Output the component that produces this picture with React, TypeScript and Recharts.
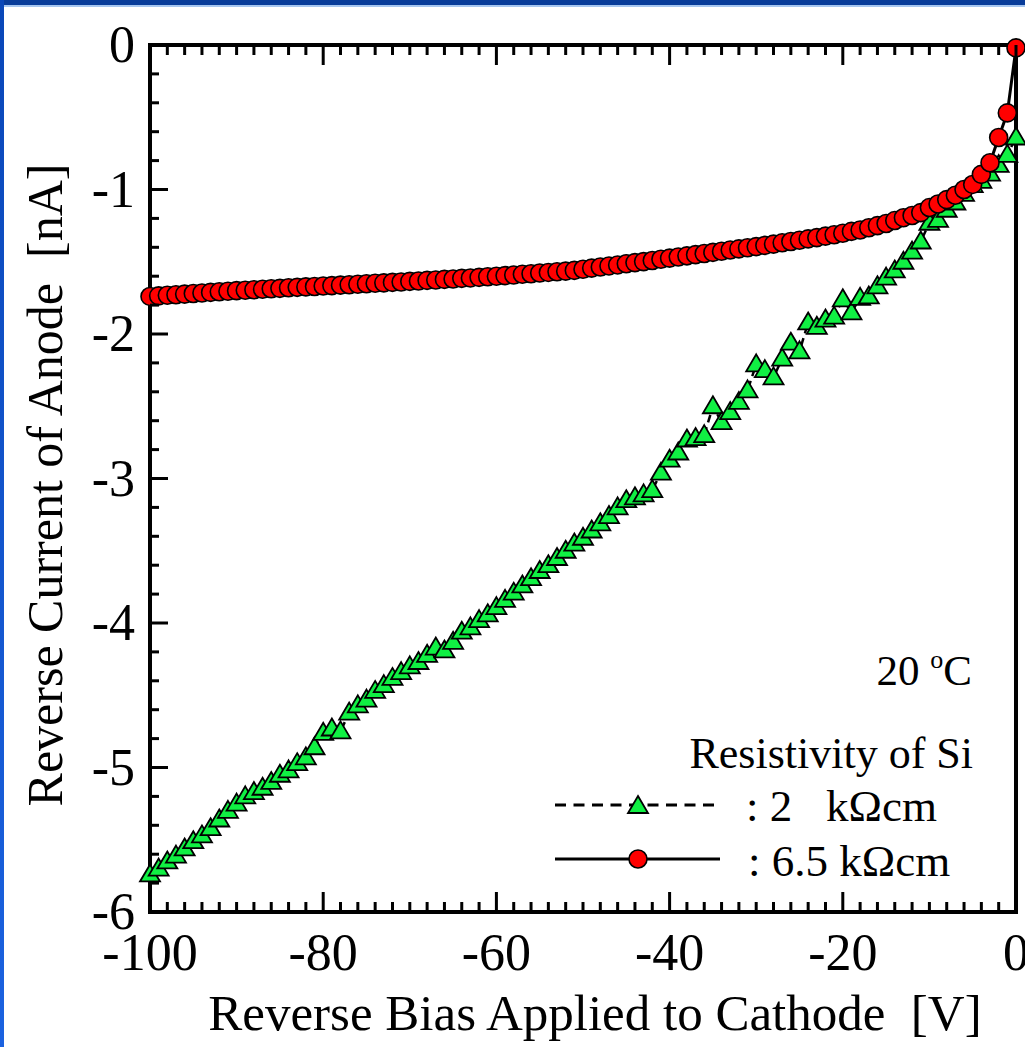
import { LineChart, Line, XAxis, YAxis, Legend } from "recharts";

const bias = [
  -100, -99, -98, -97, -96, -95, -94, -93, -92, -91,
  -90, -89, -88, -87, -86, -85, -84, -83, -82, -81,
  -80, -79, -78, -77, -76, -75, -74, -73, -72, -71,
  -70, -69, -68, -67, -66, -65, -64, -63, -62, -61,
  -60, -59, -58, -57, -56, -55, -54, -53, -52, -51,
  -50, -49, -48, -47, -46, -45, -44, -43, -42, -41,
  -40, -39, -38, -37, -36, -35, -34, -33, -32, -31,
  -30, -29, -28, -27, -26, -25, -24, -23, -22, -21,
  -20, -19, -18, -17, -16, -15, -14, -13, -12, -11,
  -10, -9, -8, -7, -6, -5, -4, -3, -2, -1,
  0,
];

// 2 kOhm cm wafer
const current2k = [
  -5.74, -5.7, -5.65, -5.61, -5.56, -5.51, -5.47, -5.42, -5.36, -5.3,
  -5.25, -5.2, -5.17, -5.14, -5.1, -5.05, -5.02, -4.97, -4.93, -4.86,
  -4.76, -4.73, -4.75, -4.62, -4.57, -4.53, -4.47, -4.43, -4.38, -4.34,
  -4.3, -4.27, -4.22, -4.17, -4.19, -4.13, -4.06, -4.03, -3.98, -3.94,
  -3.89, -3.84, -3.79, -3.74, -3.69, -3.64, -3.6, -3.55, -3.5, -3.45,
  -3.41, -3.36, -3.31, -3.26, -3.2, -3.15, -3.13, -3.11, -3.08, -2.96,
  -2.87, -2.82, -2.73, -2.72, -2.7, -2.5, -2.61, -2.54, -2.47, -2.39,
  -2.21, -2.25, -2.3, -2.17, -2.06, -2.12, -1.92, -1.95, -1.9, -1.88,
  -1.76, -1.85, -1.75, -1.74, -1.67, -1.61, -1.56, -1.5, -1.43, -1.36,
  -1.23, -1.21, -1.14, -1.09, -1.03, -0.97, -0.94, -0.89, -0.83, -0.76,
  -0.64,
];

// 6.5 kOhm cm wafer
const current65k = [
  -1.74, -1.736, -1.732, -1.728, -1.724, -1.72, -1.716, -1.712, -1.708, -1.704,
  -1.7, -1.697, -1.694, -1.69, -1.687, -1.684, -1.68, -1.677, -1.674, -1.671,
  -1.668, -1.665, -1.662, -1.659, -1.656, -1.652, -1.649, -1.646, -1.643, -1.64,
  -1.636, -1.633, -1.629, -1.626, -1.622, -1.619, -1.615, -1.612, -1.608, -1.604,
  -1.6, -1.596, -1.592, -1.587, -1.583, -1.578, -1.574, -1.569, -1.565, -1.56,
  -1.552, -1.544, -1.536, -1.529, -1.522, -1.514, -1.506, -1.499, -1.491, -1.483,
  -1.475, -1.467, -1.459, -1.451, -1.443, -1.435, -1.427, -1.419, -1.411, -1.403,
  -1.395, -1.387, -1.378, -1.369, -1.36, -1.351, -1.342, -1.333, -1.323, -1.313,
  -1.303, -1.29, -1.28, -1.265, -1.25, -1.235, -1.215, -1.195, -1.18, -1.16,
  -1.125, -1.1, -1.07, -1.04, -1.0, -0.965, -0.895, -0.815, -0.64, -0.47,
  -0.02,
];

const seriesNames = [": 2   k\u03A9cm", ": 6.5 k\u03A9cm"];

const xTicks = [
  -100, -98, -96, -94, -92, -90, -88, -86, -84, -82,
  -80, -78, -76, -74, -72, -70, -68, -66, -64, -62,
  -60, -58, -56, -54, -52, -50, -48, -46, -44, -42,
  -40, -38, -36, -34, -32, -30, -28, -26, -24, -22,
  -20, -18, -16, -14, -12, -10, -8, -6, -4, -2, 0,
];
const xLabels = [-100, -80, -60, -40, -20, 0];

const yTicks = [
  -6, -5.8, -5.6, -5.4, -5.2, -5, -4.8, -4.6, -4.4, -4.2,
  -4, -3.8, -3.6, -3.4, -3.2, -3, -2.8, -2.6, -2.4, -2.2,
  -2, -1.8, -1.6, -1.4, -1.2, -1, -0.8, -0.6, -0.4, -0.2, 0,
];
const yLabels = [0, -1, -2, -3, -4, -5, -6];

const rows = bias.map((v, i) => ({ v, g: current2k[i], r: current65k[i] }));

const FONT = '"Liberation Serif", "Times New Roman", serif';
const GREEN = "#10f043";
const RED = "#ff0000";

const isMajor = (list: number[], v: number) => list.some((l) => Math.abs(l - v) < 1e-6);

const BottomTick = (p: any) => {
  const { x, y, payload } = p;
  const major = isMajor(xLabels, payload.value);
  return (
    <g>
      <line x1={x} y1={y} x2={x} y2={y - (major ? 20 : 10)} stroke="#000" strokeWidth={3} />
      {major && (
        <text x={x} y={y + 58} textAnchor="middle" fontSize={52} fontFamily={FONT} fill="#000">
          {payload.value}
        </text>
      )}
    </g>
  );
};

const TopTick = (p: any) => {
  const { x, y, payload } = p;
  const major = isMajor(xLabels, payload.value);
  return <line x1={x} y1={y} x2={x} y2={y + (major ? 20 : 10)} stroke="#000" strokeWidth={3} />;
};

const LeftTick = (p: any) => {
  const { x, y, payload } = p;
  const major = isMajor(yLabels, payload.value);
  return (
    <g>
      <line x1={x} y1={y} x2={x + (major ? 18 : 9)} y2={y} stroke="#000" strokeWidth={3} />
      {major && (
        <text x={x - 15} y={y + 17} textAnchor="end" fontSize={52} fontFamily={FONT} fill="#000">
          {payload.value}
        </text>
      )}
    </g>
  );
};

const RightTick = (p: any) => {
  const { x, y, payload } = p;
  const major = isMajor(yLabels, payload.value);
  return <line x1={x} y1={y} x2={x - (major ? 18 : 9)} y2={y} stroke="#000" strokeWidth={3} />;
};

const triPath = (cx: number, cy: number) =>
  `M${cx},${cy - 10} L${cx + 10},${cy + 7} L${cx - 10},${cy + 7} Z`;

const TriangleDot = (p: any) => {
  const { cx, cy, index } = p;
  if (cx == null || cy == null) return null;
  return <path key={`t${index}`} d={triPath(cx, cy)} fill={GREEN} stroke="#000" strokeWidth={1.8} />;
};

const Notes = () => (
  <svg width={480} height={260} style={{ display: "block" }} fontFamily={FONT}>
    <text x={427} y={45} textAnchor="end" fontSize={43} fill="#000">
      <tspan>20 </tspan>
      <tspan dy={-17} fontSize={26}>o</tspan>
      <tspan dy={17}>C</tspan>
    </text>
    <text x={428} y={128} textAnchor="end" fontSize={44} fill="#000">
      Resistivity of Si
    </text>
    <line x1={10} y1={165} x2={170} y2={165} stroke="#000" strokeWidth={3} strokeDasharray="11 7.5" />
    <path d={triPath(93, 166)} fill={GREEN} stroke="#000" strokeWidth={1.8} />
    <text x={201} y={181} fontSize={45} fill="#000" style={{ whiteSpace: "pre" }}>
      {seriesNames[0]}
    </text>
    <line x1={10} y1={219} x2={175} y2={219} stroke="#000" strokeWidth={3} />
    <circle cx={93} cy={219} r={9} fill={RED} stroke="#000" strokeWidth={1.6} />
    <text x={203} y={236} fontSize={45} fill="#000" style={{ whiteSpace: "pre" }}>
      {seriesNames[1]}
    </text>
  </svg>
);

const axisLine = { stroke: "#000", strokeWidth: 4, strokeLinecap: "square" as const };

export default function App() {
  return (
    <div style={{ position: "absolute", left: 0, top: 0, width: 1025, height: 1047, background: "#fff", overflow: "hidden" }}>
      <LineChart width={1025} height={1047} data={rows} margin={{ top: 44, right: 8, bottom: 134, left: 149 }}>
        <XAxis
          xAxisId="b"
          dataKey="v"
          type="number"
          domain={[-100, 0]}
          ticks={xTicks}
          interval={0}
          height={1}
          tickSize={0}
          tickMargin={0}
          tickLine={false}
          axisLine={axisLine}
          tick={BottomTick}
          label={{
            content: (lp: any) => {
              const vb = lp.viewBox || {};
              return (
                <text x={(vb.x ?? 150) + (vb.width ?? 866) / 2 + 12} y={1030} textAnchor="middle" fontSize={51} fontFamily={FONT} fill="#000" style={{ whiteSpace: "pre" }}>
                  Reverse Bias Applied to Cathode  [V]
                </text>
              );
            },
          }}
        />
        <XAxis
          xAxisId="t"
          orientation="top"
          dataKey="v"
          type="number"
          domain={[-100, 0]}
          ticks={xTicks}
          interval={0}
          height={1}
          tickSize={0}
          tickMargin={0}
          tickLine={false}
          axisLine={axisLine}
          tick={TopTick}
        />
        <YAxis
          yAxisId="l"
          type="number"
          domain={[-6, 0]}
          ticks={yTicks}
          interval={0}
          width={1}
          tickSize={0}
          tickMargin={0}
          tickLine={false}
          axisLine={axisLine}
          tick={LeftTick}
          label={{
            content: () => (
              <text x={62} y={485} transform="rotate(-90 62 485)" textAnchor="middle" fontSize={50} fontFamily={FONT} fill="#000" style={{ whiteSpace: "pre" }}>
                Reverse Current of Anode  [nA]
              </text>
            ),
          }}
        />
        <YAxis
          yAxisId="r"
          orientation="right"
          type="number"
          domain={[-6, 0]}
          ticks={yTicks}
          interval={0}
          width={1}
          tickSize={0}
          tickMargin={0}
          tickLine={false}
          axisLine={axisLine}
          tick={RightTick}
        />
        <Line
          xAxisId="b"
          yAxisId="l"
          type="linear"
          dataKey="g"
          name={seriesNames[0]}
          stroke="#000"
          strokeWidth={2.5}
          strokeDasharray="8 5"
          dot={TriangleDot}
          isAnimationActive={false}
        />
        <Line
          xAxisId="b"
          yAxisId="l"
          type="linear"
          dataKey="r"
          name={seriesNames[1]}
          stroke="#000"
          strokeWidth={3}
          dot={{ r: 9, fill: RED, stroke: "#000", strokeWidth: 1.6 }}
          isAnimationActive={false}
        />
        <Legend
          layout="vertical"
          align="center"
          verticalAlign="middle"
          wrapperStyle={{ left: 545, top: 640, width: 480, height: 260 }}
          content={() => <Notes />}
        />
      </LineChart>
      <div style={{ position: "absolute", left: 0, top: 0, width: 1025, height: 5, background: "#083c9a" }} />
      <div style={{ position: "absolute", left: 0, top: 5, width: 1025, height: 2, background: "#a6c6f0" }} />
      <div style={{ position: "absolute", left: 0, top: 0, width: 4, height: 1047, background: "linear-gradient(#0a47b8, #1b62e0)" }} />
    </div>
  );
}
